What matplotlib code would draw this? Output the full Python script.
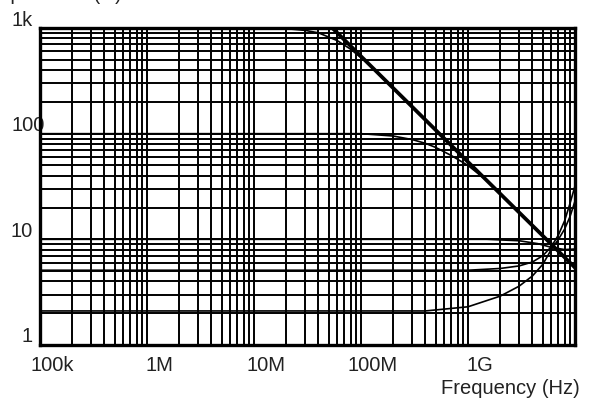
import matplotlib
matplotlib.use('Agg')
import matplotlib.pyplot as plt
import matplotlib.transforms as mtransforms
from matplotlib.ticker import LogLocator, NullFormatter

plt.rcParams['font.family'] = ['Liberation Sans', 'DejaVu Sans']

# axis ticks
freq_ticks = [1e5, 1e6, 1e7, 1e8, 1e9]
freq_labels = ['100k', '1M', '10M', '100M', '1G']
z_ticks = [1, 10, 100, 1000]
z_labels = ['1', '10', '100', '1k']

# thick reference line (capacitive slope)
ref_f = [5.4e7, 1e10]
ref_z = [1000, 5.4]

# impedance curves (Hz, Ohm)
f_1k = [1e5, 1e7, 2e7, 3e7, 4e7, 6e7, 8e7, 1.2e8, 2e8]
z_1k = [1000, 1000, 985, 950, 900, 760, 630, 450, 270]

f_100 = [1e5, 1e8, 2e8, 3e8, 4e8, 5e8, 7e8, 1e9, 1.5e9]
z_100 = [100, 100, 95, 88, 81, 74, 62, 50, 36]

f_10 = [1e5, 1.5e9, 3e9, 4.5e9, 6e9, 8e9, 1e10]
z_10 = [10, 10, 9.7, 9.1, 8.4, 8.0, 8.1]

f_5 = [1e5, 1e9, 2e9, 3e9, 4e9, 5e9, 6e9, 7e9, 8e9, 9e9, 1e10]
z_5 = [5.1, 5.1, 5.3, 5.6, 6.1, 7.0, 8.5, 11, 15, 22, 32]

f_2 = [1e5, 4e8, 1e9, 2e9, 3e9, 4e9, 5e9, 6e9, 7e9, 8e9, 9e9, 1e10]
z_2 = [2.1, 2.1, 2.3, 2.9, 3.6, 4.5, 5.8, 8.0, 10, 12.5, 16.5, 23]

fig = plt.figure(figsize=(5.95, 4.03), dpi=100)
ax = fig.add_axes([40/595, 1 - 345/403, 535/595, 317/403])
ax.set_xscale('log')
ax.set_yscale('log')
ax.set_xlim(1e5, 1e10)
ax.set_ylim(1, 1000)

ax.xaxis.set_minor_locator(LogLocator(base=10, subs=range(2, 10)))
ax.yaxis.set_minor_locator(LogLocator(base=10, subs=range(2, 10)))
ax.xaxis.set_minor_formatter(NullFormatter())
ax.yaxis.set_minor_formatter(NullFormatter())
ax.grid(which='both', color='black', linewidth=1.4)
ax.set_axisbelow(True)

for f, z in [(f_1k, z_1k), (f_100, z_100), (f_10, z_10), (f_5, z_5), (f_2, z_2)]:
    ax.plot(f, z, color='black', linewidth=1.2)
ax.plot(ref_f, ref_z, color='black', linewidth=2.7)

for sp in ax.spines.values():
    sp.set_linewidth(2.4)

ax.set_xticks(freq_ticks)
ax.set_xticklabels(freq_labels)
ax.set_yticks(z_ticks)
ax.set_yticklabels(z_labels)
ax.tick_params(which='both', length=0)
ax.tick_params(axis='x', pad=8, labelsize=14.5, colors='#222222')
ax.tick_params(axis='y', pad=5, labelsize=14.5, colors='#222222')

# labels in the original sit a little off the grid lines
xshift = mtransforms.ScaledTranslation(0.12, 0, fig.dpi_scale_trans)
for lab in ax.get_xticklabels():
    lab.set_transform(lab.get_transform() + xshift)
for lab in ax.get_yticklabels():
    dx = 0.12 if lab.get_text() == '100' else 0
    lab.set_transform(lab.get_transform() + mtransforms.ScaledTranslation(dx, 0.10, fig.dpi_scale_trans))

fig.text(580/595, 1 - 388/403, 'Frequency (Hz)', ha='right', va='center',
         fontsize=14.5, color='#222222')
# y title, almost fully cut off by the top edge in the original
fig.text(-12/595, 1 + 0.5/403, 'Impedance (Ω)', ha='left', va='baseline',
         fontsize=14.5, color='#222222')

fig.savefig('out.png', dpi=100)
